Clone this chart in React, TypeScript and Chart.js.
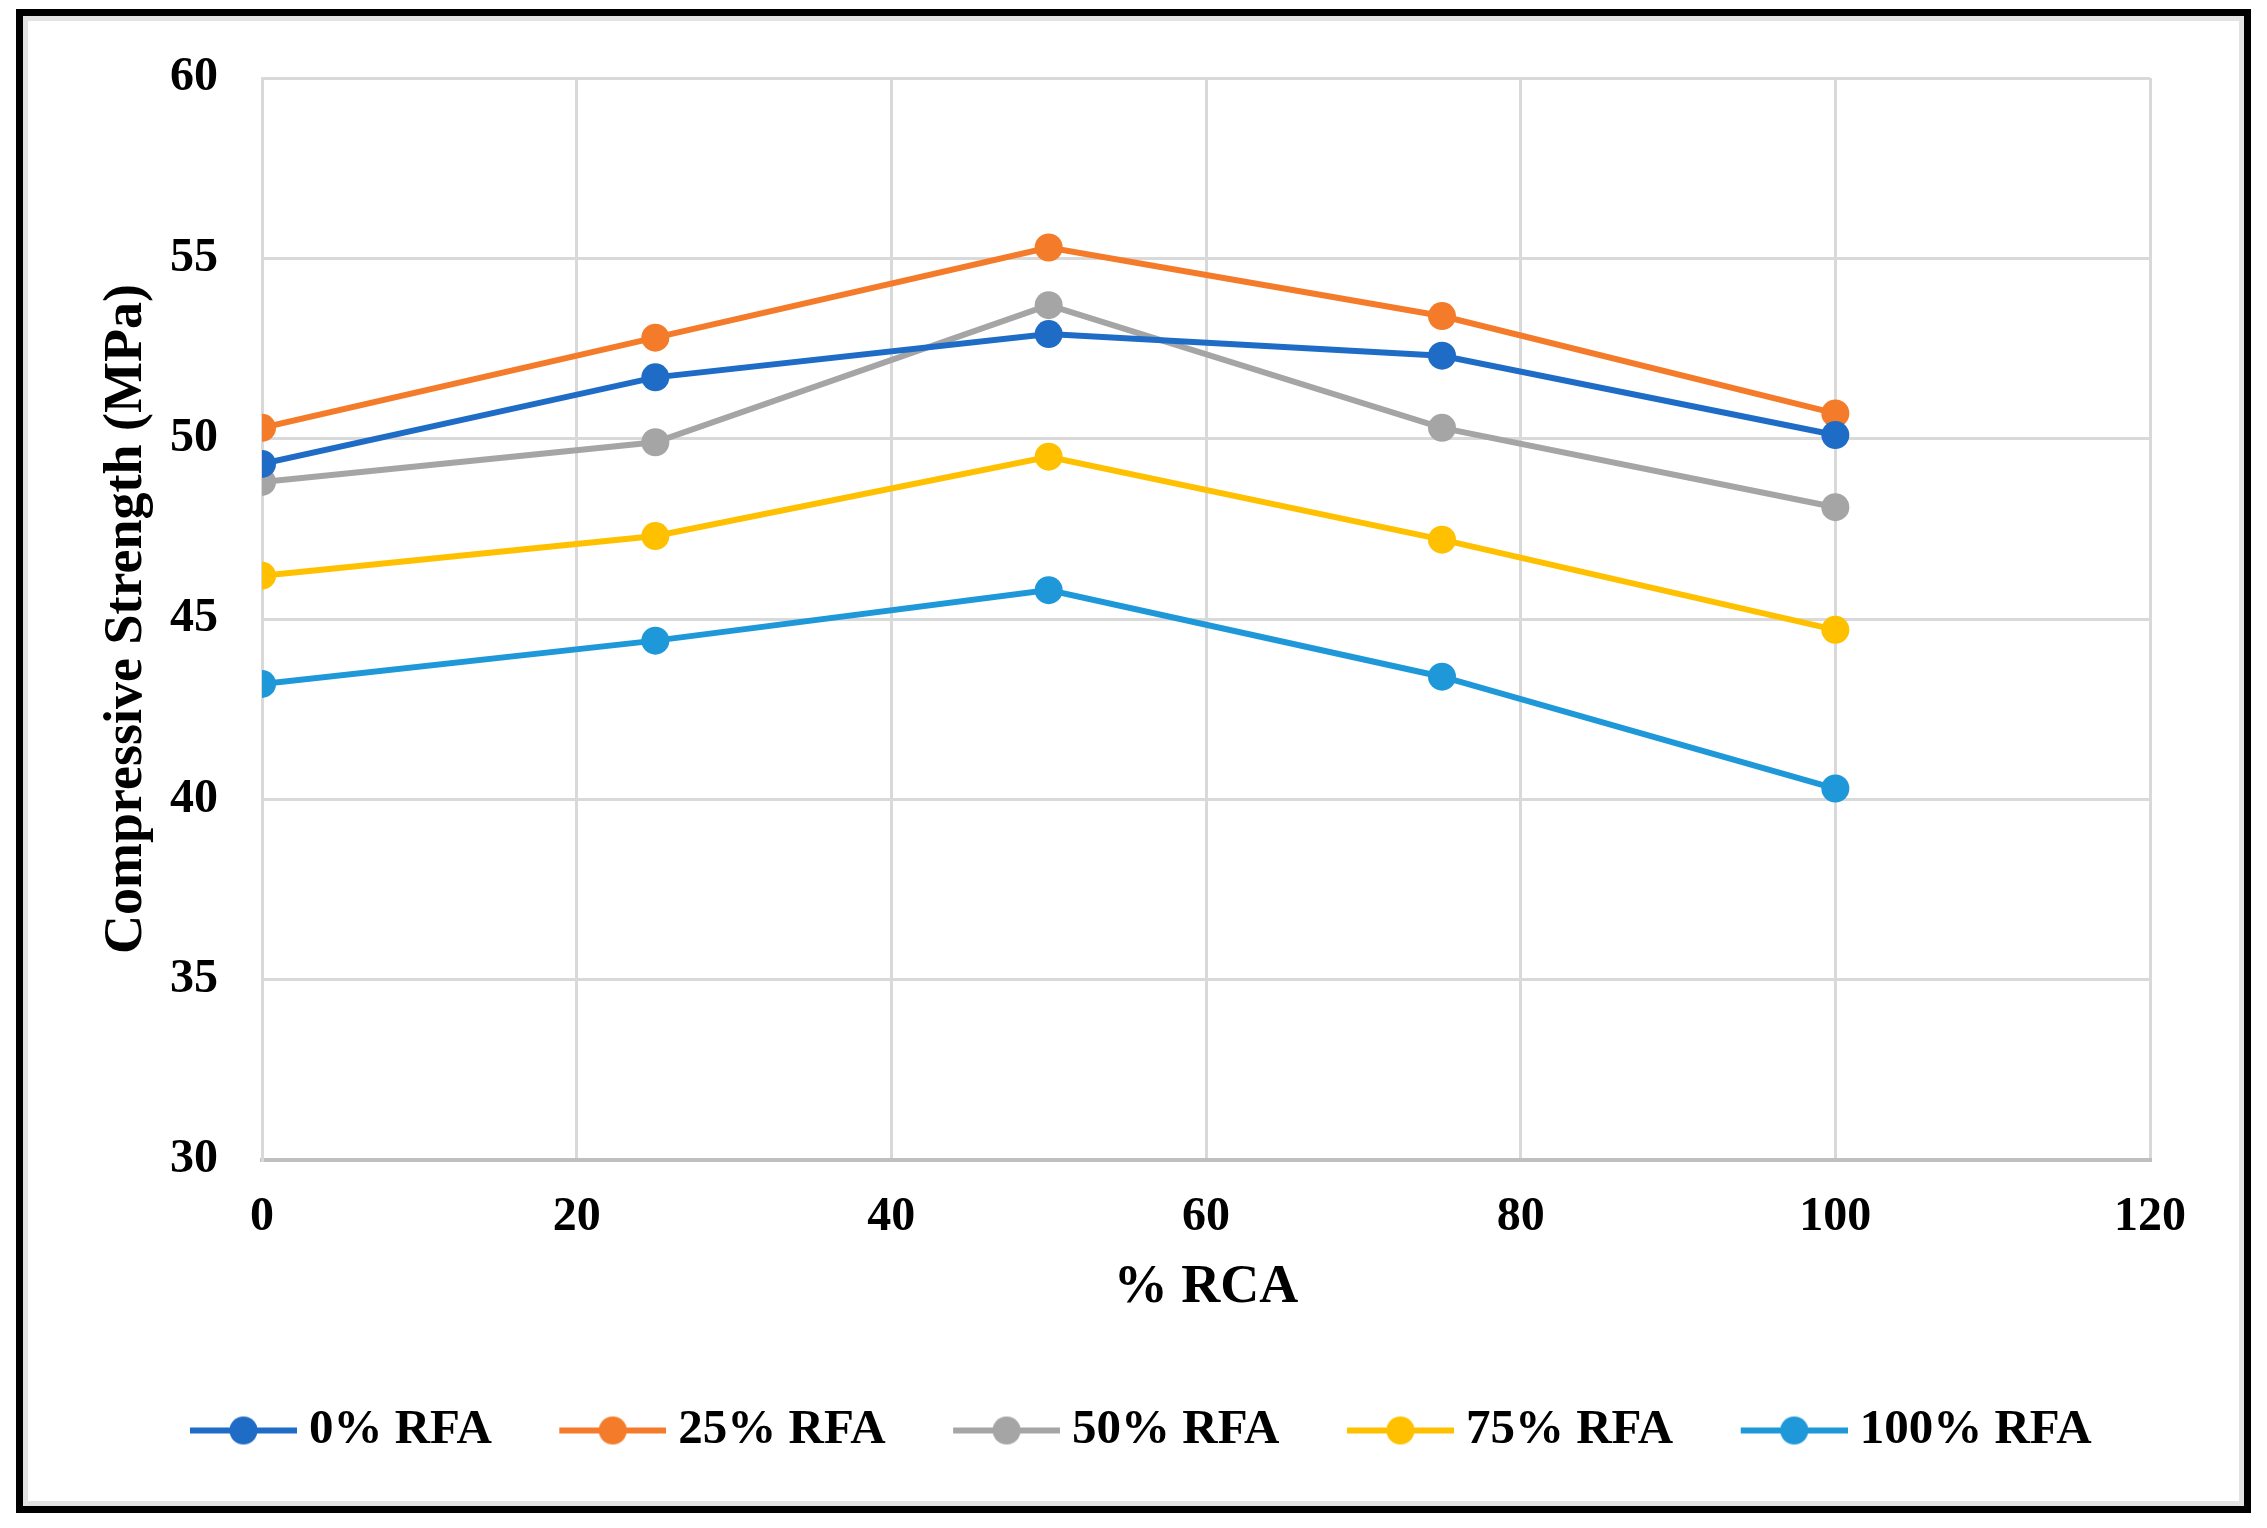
import React, { useEffect, useRef } from "react";
import Chart from "chart.js/auto";

// % RCA on the x axis
const rcaLevels = [0, 25, 50, 75, 100];

// compressive strength (MPa) per RFA replacement level
const rfa0 = [49.3, 51.7, 52.9, 52.3, 50.1];
const rfa25 = [50.3, 52.8, 55.3, 53.4, 50.7];
const rfa50 = [48.8, 49.9, 53.7, 50.3, 48.1];
const rfa75 = [46.2, 47.3, 49.5, 47.2, 44.7];
const rfa100 = [43.2, 44.4, 45.8, 43.4, 40.3];

const seriesLabels = ["0% RFA", "25% RFA", "50% RFA", "75% RFA", "100% RFA"];
const seriesColors = ["#1F6CC6", "#F47B2A", "#A5A5A5", "#FFC000", "#1E98D8"];

const FONT = "'Liberation Serif', 'Times New Roman', serif";

// line + dot legend icon, like the spreadsheet legend
function makeLegendIcon(color: string) {
  const c = document.createElement("canvas");
  c.width = 134;
  c.height = 32;
  const ctx = c.getContext("2d");
  if (ctx) {
    ctx.strokeStyle = color;
    ctx.lineWidth = 6;
    ctx.beginPath();
    ctx.moveTo(27, 16);
    ctx.lineTo(134, 16);
    ctx.stroke();
    ctx.fillStyle = color;
    ctx.beginPath();
    ctx.arc(80.5, 16, 14, 0, Math.PI * 2);
    ctx.fill();
  }
  return c;
}

const StrengthChart: React.FC = () => {
  const chartRef = useRef<HTMLCanvasElement>(null);
  const chartInstance = useRef<Chart | null>(null);

  useEffect(() => {
    if (!chartRef.current) return;
    const ctx = chartRef.current.getContext("2d");
    if (!ctx) return;
    if (chartInstance.current) chartInstance.current.destroy();

    const allSeries = [rfa0, rfa25, rfa50, rfa75, rfa100];
    const icons = seriesColors.map(makeLegendIcon);

    chartInstance.current = new Chart(ctx, {
      type: "line",
      data: {
        datasets: allSeries.map((vals, i) => ({
          label: seriesLabels[i],
          data: vals.map((v, j) => ({ x: rcaLevels[j], y: v })),
          borderColor: seriesColors[i],
          backgroundColor: seriesColors[i],
          borderWidth: 6,
          pointRadius: 14,
          pointHoverRadius: 14,
          pointBorderWidth: 0,
          tension: 0,
        })),
      },
      options: {
        animation: false,
        responsive: false,
        devicePixelRatio: 1,
        layout: { padding: { left: 0, right: 0, top: 62, bottom: 41 } },
        scales: {
          x: {
            type: "linear",
            min: 0,
            max: 120,
            ticks: {
              stepSize: 20,
              padding: 29,
              color: "#000",
              font: { family: FONT, size: 48, weight: "bold" },
            },
            grid: { color: "#D9D9D9", lineWidth: 3, drawTicks: false },
            border: { color: "#BFBFBF", width: 4 },
            title: {
              display: true,
              text: "% RCA",
              color: "#000",
              font: { family: FONT, size: 54, weight: "bold" },
              padding: { top: 0, bottom: 33 },
            },
            afterFit: (scale: any) => {
              scale.height = 193;
              scale.paddingLeft = 0;
              scale.paddingRight = 0;
            },
          },
          y: {
            min: 30,
            max: 60,
            ticks: {
              stepSize: 5,
              padding: 44,
              color: "#000",
              font: { family: FONT, size: 48, weight: "bold" },
            },
            grid: { color: "#D9D9D9", lineWidth: 3, drawTicks: false },
            border: { color: "#D9D9D9", width: 3 },
            title: {
              display: true,
              text: "Compressive Strength (MPa)",
              color: "#000",
              font: { family: FONT, size: 54, weight: "bold" },
              padding: { top: 72, bottom: 0 },
            },
            afterFit: (scale: any) => {
              scale.width = 239;
              scale.paddingTop = 0;
              scale.paddingBottom = 0;
            },
          },
          // empty right-hand axis, only keeps the margin right of the plot
          yRight: {
            position: "right",
            min: 30,
            max: 60,
            ticks: { display: false },
            grid: { display: false },
            border: { display: false },
            afterFit: (scale: any) => {
              scale.width = 94;
              scale.paddingTop = 0;
              scale.paddingBottom = 0;
            },
          },
        },
        plugins: {
          legend: {
            position: "bottom",
            labels: {
              usePointStyle: true,
              pointStyleWidth: 109,
              padding: 53,
              color: "#000",
              font: { family: FONT, size: 49, weight: "bold" },
              generateLabels: (chart: any) =>
                Chart.defaults.plugins.legend.labels
                  .generateLabels(chart)
                  .map((item: any, i: number) => ({ ...item, pointStyle: icons[i] })),
            },
          },
          tooltip: { enabled: false },
        },
      },
    } as any);

    return () => {
      if (chartInstance.current) {
        chartInstance.current.destroy();
        chartInstance.current = null;
      }
    };
  }, []);

  return (
    <canvas
      ref={chartRef}
      width={2221}
      height={1490}
      style={{ position: "absolute", left: 23, top: 16, width: 2221, height: 1490 }}
    />
  );
};

export default function App() {
  return (
    <div style={{ position: "absolute", left: 0, top: 0, width: 2267, height: 1528, background: "#fff" }}>
      {/* black outer frame */}
      <div
        style={{
          position: "absolute",
          left: 16,
          top: 9,
          width: 2235,
          height: 1504,
          boxSizing: "border-box",
          border: "7px solid #000",
        }}
      />
      {/* faint inner edge */}
      <div
        style={{
          position: "absolute",
          left: 23,
          top: 16,
          width: 2221,
          height: 1490,
          boxSizing: "border-box",
          border: "5px solid #E3E3E3",
        }}
      />
      <StrengthChart />
    </div>
  );
}
